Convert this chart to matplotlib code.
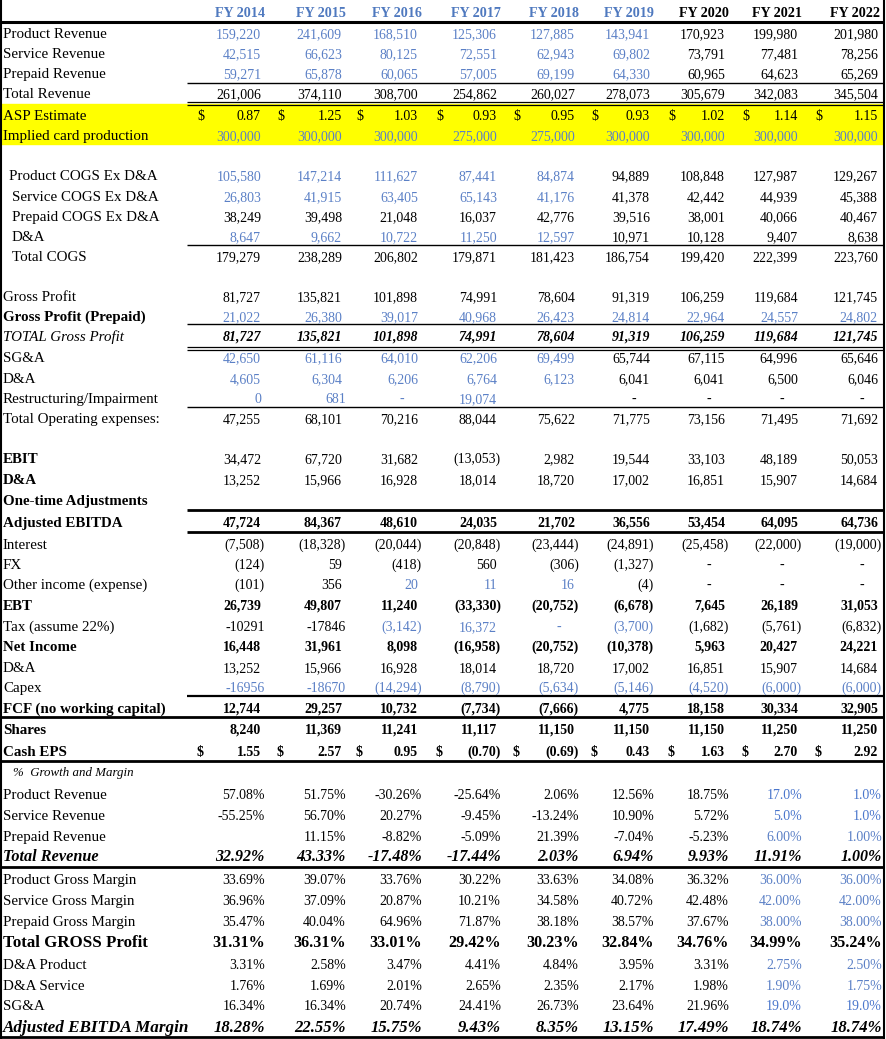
import matplotlib.pyplot as plt
from matplotlib.patches import Rectangle

plt.rcParams['font.family'] = ['Liberation Serif', 'DejaVu Serif']

years = ['FY 2014', 'FY 2015', 'FY 2016', 'FY 2017', 'FY 2018', 'FY 2019', 'FY 2020', 'FY 2021', 'FY 2022']

# revenue
product_rev = [159220, 241609, 168510, 125306, 127885, 143941, 170923, 199980, 201980]
service_rev = [42515, 66623, 80125, 72551, 62943, 69802, 73791, 77481, 78256]
prepaid_rev = [59271, 65878, 60065, 57005, 69199, 64330, 60965, 64623, 65269]
total_rev = [261006, 374110, 308700, 254862, 260027, 278073, 305679, 342083, 345504]
asp_estimate = [0.87, 1.25, 1.03, 0.93, 0.95, 0.93, 1.02, 1.14, 1.15]
card_production = [300000, 300000, 300000, 275000, 275000, 300000, 300000, 300000, 300000]

# cost of goods sold
product_cogs = [105580, 147214, 111627, 87441, 84874, 94889, 108848, 127987, 129267]
service_cogs = [26803, 41915, 63405, 65143, 41176, 41378, 42442, 44939, 45388]
prepaid_cogs = [38249, 39498, 21048, 16037, 42776, 39516, 38001, 40066, 40467]
cogs_da = [8647, 9662, 10722, 11250, 12597, 10971, 10128, 9407, 8638]
total_cogs = [179279, 238289, 206802, 179871, 181423, 186754, 199420, 222399, 223760]

# profit and opex
gross_profit = [81727, 135821, 101898, 74991, 78604, 91319, 106259, 119684, 121745]
gross_profit_prepaid = [21022, 26380, 39017, 40968, 26423, 24814, 22964, 24557, 24802]
sga = [42650, 61116, 64010, 62206, 69499, 65744, 67115, 64996, 65646]
opex_da = [4605, 6304, 6206, 6764, 6123, 6041, 6041, 6500, 6046]
restructuring = [0, 681, '-', 19074, '', '-', '-', '-', '-']
total_opex = [47255, 68101, 70216, 88044, 75622, 71775, 73156, 71495, 71692]

# earnings and cash flow
ebit = [34472, 67720, 31682, -13053, 2982, 19544, 33103, 48189, 50053]
da = [13252, 15966, 16928, 18014, 18720, 17002, 16851, 15907, 14684]
adj_ebitda = [47724, 84367, 48610, 24035, 21702, 36556, 53454, 64095, 64736]
interest = [-7508, -18328, -20044, -20848, -23444, -24891, -25458, -22000, -19000]
fx = [-124, 59, -418, 560, -306, -1327, '-', '-', '-']
other_income = [-101, 356, 20, 11, 16, -4, '-', '-', '-']
ebt = [26739, 49807, 11240, -33330, -20752, -6678, 7645, 26189, 31053]
tax = [-10291, -17846, -3142, 16372, '-', -3700, -1682, -5761, -6832]
net_income = [16448, 31961, 8098, -16958, -20752, -10378, 5963, 20427, 24221]
capex = [-16956, -18670, -14294, -8790, -5634, -5146, -4520, -6000, -6000]
fcf = [12744, 29257, 10732, -7734, -7666, 4775, 18158, 30334, 32905]
shares = [8240, 11369, 11241, 11117, 11150, 11150, 11150, 11250, 11250]
cash_eps = [1.55, 2.57, 0.95, -0.70, -0.69, 0.43, 1.63, 2.70, 2.92]

# % growth and margin
g_product = [57.08, 51.75, -30.26, -25.64, 2.06, 12.56, 18.75, 17.0, 1.0]
g_service = [-55.25, 56.70, 20.27, -9.45, -13.24, 10.90, 5.72, 5.0, 1.0]
g_prepaid = ['', 11.15, -8.82, -5.09, 21.39, -7.04, -5.23, 6.00, 1.00]
g_total = [32.92, 43.33, -17.48, -17.44, 2.03, 6.94, 9.93, 11.91, 1.00]
m_product = [33.69, 39.07, 33.76, 30.22, 33.63, 34.08, 36.32, 36.00, 36.00]
m_service = [36.96, 37.09, 20.87, 10.21, 34.58, 40.72, 42.48, 42.00, 42.00]
m_prepaid = [35.47, 40.04, 64.96, 71.87, 38.18, 38.57, 37.67, 38.00, 38.00]
m_gross = [31.31, 36.31, 33.01, 29.42, 30.23, 32.84, 34.76, 34.99, 35.24]
m_da_product = [3.31, 2.58, 3.47, 4.41, 4.84, 3.95, 3.31, 2.75, 2.50]
m_da_service = [1.76, 1.69, 2.01, 2.65, 2.35, 2.17, 1.98, 1.90, 1.75]
m_sga = [16.34, 16.34, 20.74, 24.41, 26.73, 23.64, 21.96, 19.0, 19.0]
m_ebitda = [18.28, 22.55, 15.75, 9.43, 8.35, 13.15, 17.49, 18.74, 18.74]

BLUE = '#5b80c6'
BRIGHT = '#4a76cc'
HEAD_BLUE = '#4f79bf'

col_r = [261, 342, 418, 497, 575, 650, 725, 798, 878]
dollar_x = [197, 277, 356, 436, 513, 591, 668, 742, 815]

hist = range(6)
early = range(5)
fcst = [7, 8]

# cells typed as plain numbers (no thousands separator / accounting padding)
general_cells = {'Restructuring/Impairment': [1], 'Tax (assume 22%)': [0, 1], 'Capex': [0, 1]}

# (label, values, y, kind, blue columns, label style, value style)
rows = [
    ('Product Revenue', product_rev, 33, 'acct', hist, {}, {}),
    ('Service Revenue', service_rev, 53, 'acct', hist, {}, {}),
    ('Prepaid Revenue', prepaid_rev, 73, 'acct', hist, {}, {}),
    ('Total Revenue', total_rev, 93, 'acct', [], {}, {}),
    ('ASP Estimate', asp_estimate, 115, 'dollar', [], {}, {}),
    ('Implied card production', card_production, 135, 'acct', range(9), {}, {}),
    ('Product COGS Ex D&A', product_cogs, 175, 'acct', early, {'x': 9}, {}),
    ('Service COGS Ex D&A', service_cogs, 196, 'acct', early, {'x': 12}, {}),
    ('Prepaid COGS Ex D&A', prepaid_cogs, 216, 'acct', [], {'x': 12}, {}),
    ('D&A', cogs_da, 236, 'acct', early, {'x': 12}, {}),
    ('Total COGS', total_cogs, 256, 'acct', [], {'x': 12}, {}),
    ('Gross Profit', gross_profit, 296, 'acct', [], {}, {}),
    ('Gross Profit (Prepaid)', gross_profit_prepaid, 316, 'acct', range(9), {'weight': 'bold'}, {}),
    ('TOTAL Gross Profit', gross_profit, 336, 'acct', [], {'style': 'italic'},
     {'style': 'italic', 'weight': 'bold'}),
    ('SG&A', sga, 357, 'acct', early, {}, {}),
    ('D&A', opex_da, 378, 'acct', early, {}, {}),
    ('Restructuring/Impairment', restructuring, 398, 'acct', range(4), {}, {}),
    ('Total Operating expenses:', total_opex, 418, 'acct', [], {}, {}),
    ('EBIT', ebit, 458, 'acct', [], {'weight': 'bold'}, {}),
    ('D&A', da, 479, 'acct', [], {'weight': 'bold'}, {}),
    ('One-time Adjustments', [''] * 9, 500, 'acct', [], {'weight': 'bold'}, {}),
    ('Adjusted EBITDA', adj_ebitda, 522, 'acct', [], {'weight': 'bold'}, {'weight': 'bold'}),
    ('Interest', interest, 544, 'acct', [], {}, {}),
    ('FX', fx, 564, 'acct', [], {}, {}),
    ('Other income (expense)', other_income, 584, 'acct', [2, 3, 4], {}, {}),
    ('EBT', ebt, 605, 'acct', [], {'weight': 'bold'}, {'weight': 'bold'}),
    ('Tax (assume 22%)', tax, 626, 'acct', [2, 3, 4, 5], {}, {}),
    ('Net Income', net_income, 646, 'acct', [], {'weight': 'bold'}, {'weight': 'bold'}),
    ('D&A', da, 667, 'acct', [], {}, {}),
    ('Capex', capex, 687, 'acct', range(9), {}, {}),
    ('FCF (no working capital)', fcf, 708, 'acct', [], {'weight': 'bold'}, {'weight': 'bold'}),
    ('Shares', shares, 729, 'acct', [], {'weight': 'bold'}, {'weight': 'bold'}),
    ('Cash EPS', cash_eps, 751, 'dollar', [], {'weight': 'bold'}, {'weight': 'bold'}),
    ('Product Revenue', g_product, 794, 'pct1', fcst, {}, {}),
    ('Service Revenue', g_service, 815, 'pct1', fcst, {}, {}),
    ('Prepaid Revenue', g_prepaid, 836, 'pct', fcst, {}, {}),
    ('Total Revenue', g_total, 856, 'pct', [], {'weight': 'bold', 'style': 'italic', 'size': 11.7},
     {'weight': 'bold', 'style': 'italic', 'size': 11.5}),
    ('Product Gross Margin', m_product, 879, 'pct', fcst, {}, {}),
    ('Service Gross Margin', m_service, 900, 'pct', fcst, {}, {}),
    ('Prepaid Gross Margin', m_prepaid, 921, 'pct', fcst, {}, {}),
    ('Total GROSS Profit', m_gross, 942, 'pct', [], {'weight': 'bold', 'size': 12.2},
     {'weight': 'bold', 'size': 11.6}),
    ('D&A Product', m_da_product, 964, 'pct', fcst, {}, {}),
    ('D&A Service', m_da_service, 985, 'pct', fcst, {}, {}),
    ('SG&A', m_sga, 1005, 'pct1', fcst, {}, {}),
    ('Adjusted EBITDA Margin', m_ebitda, 1027, 'pct', [], {'weight': 'bold', 'style': 'italic', 'size': 12.3},
     {'weight': 'bold', 'style': 'italic', 'size': 12}),
]


def acct(v, dp=0):
    s = '{:,.{}f}'.format(abs(v), dp)
    return '(' + s + ')' if v < 0 else s


fig = plt.figure(figsize=(8.86, 10.39), dpi=100)
ax = fig.add_axes([0, 0, 1, 1])
ax.set_xlim(0, 886)
ax.set_ylim(1039, 0)
ax.axis('off')

# yellow band
ax.add_patch(Rectangle((0, 104), 883, 40, color='#ffff00', zorder=0))

# header
for i, yr in enumerate(years):
    ax.text(min(col_r[i] + 4, 880), 17, yr, ha='right', va='baseline', fontsize=10.2,
            weight='bold', color=HEAD_BLUE if i < 6 else 'black')

ax.text(13, 776, '%  Growth and Margin', fontsize=9.3, style='italic', va='baseline')

for label, vals, y, kind, blue, lkw, vkw in rows:
    yb = y + 5
    lkw = dict(lkw)
    lx = lkw.pop('x', 3)
    lkw.setdefault('size', 10.8)
    ax.text(lx, yb, label, va='baseline', **lkw)
    vkw = dict(vkw)
    vkw.setdefault('size', 10)
    gen = general_cells.get(label, [])
    for i, v in enumerate(vals):
        if v == '':
            continue
        r = col_r[i]
        c = BLUE if i in blue else 'black'
        if kind == 'pct1' and i in fcst:
            c = BRIGHT
        if v == '-':
            ax.text(r - 16, yb, '-', ha='center', va='baseline', color=c, **vkw)
        elif kind.startswith('pct'):
            dp = 1 if (kind == 'pct1' and i in fcst) else 2
            ax.text(r + 4, yb, '{:.{}f}%'.format(v, dp), ha='right', va='baseline', color=c, **vkw)
        elif i in gen:
            ax.text(r + 4, yb, '{:.0f}'.format(v), ha='right', va='baseline', color=c, **vkw)
        else:
            s = acct(v, 2 if kind == 'dollar' else 0)
            ax.text(r + 4 if s.endswith(')') else r, yb, s, ha='right', va='baseline', color=c, **vkw)
            if kind == 'dollar':
                ax.text(dollar_x[i], yb, '$', ha='left', va='baseline', color=c, **vkw)


# rules
def hline(y, x0=187, lw=1.0):
    ax.plot([x0, 884], [y, y], color='black', lw=lw, solid_capstyle='butt')


hline(22, 0, 2.2)
hline(83)
hline(101.5, lw=0.9)
hline(104.5, lw=0.9)
hline(245)
hline(324)
hline(347, lw=0.9)
hline(350, lw=0.9)
hline(407)
hline(510, lw=2)
hline(532, lw=2)
hline(696, lw=1.6)
hline(717, 0, 2)
hline(761, 0, 2)
hline(867, 0, 2)
hline(1037, 0, 2)
ax.plot([1, 1], [0, 1039], color='black', lw=1.5)
ax.plot([884, 884], [0, 1039], color='black', lw=1.5)

fig.savefig('out.png', dpi=100)
